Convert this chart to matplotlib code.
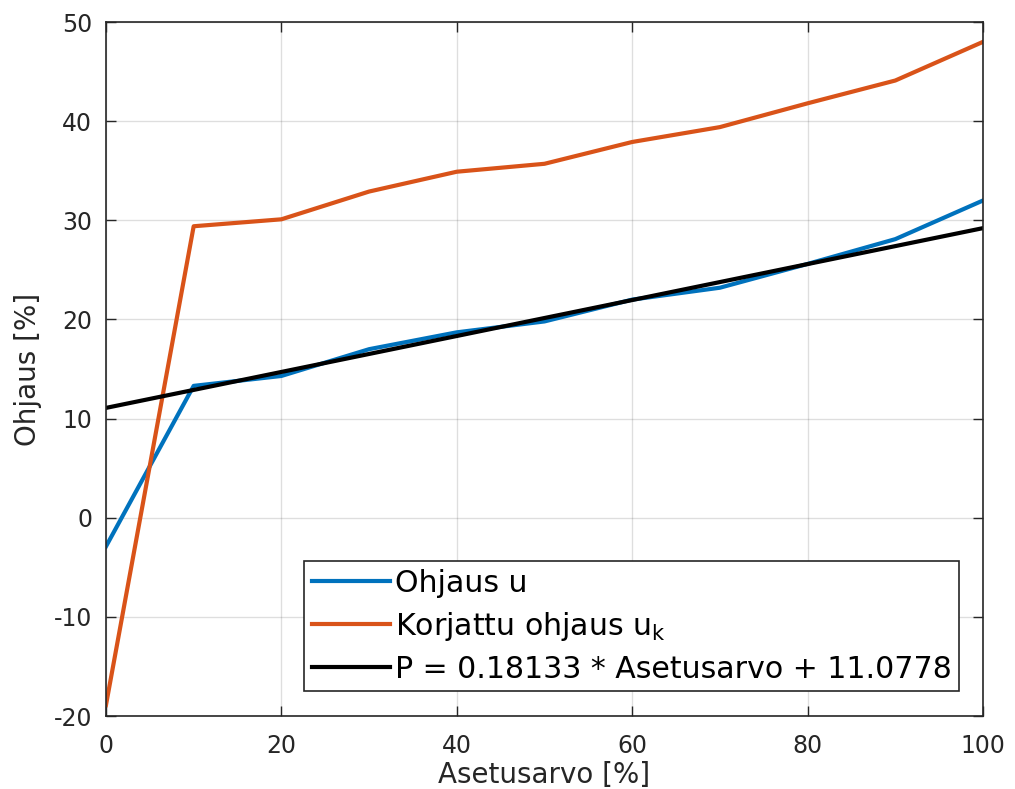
import numpy as np
import matplotlib.pyplot as plt
import matplotlib.ticker as ticker

plt.rcParams['axes.unicode_minus'] = False

# Asetusarvo (setpoint) steps and measured controls
setpoint = [0, 10, 20, 30, 40, 50, 60, 70, 80, 90, 100]
ohjaus_u = [-2.9, 13.3, 14.3, 17.0, 18.7, 19.8, 22.0, 23.2, 25.6, 28.1, 32.0]
ohjaus_uk = [-18.9, 29.4, 30.1, 32.9, 34.9, 35.7, 37.9, 39.4, 41.8, 44.1, 48.0]

# linear fit P = k * Asetusarvo + b
fit_k = 0.18133
fit_b = 11.0778

BLUE = '#0072BD'
ORANGE = '#D95319'
TEXT = '#262626'

fig = plt.figure(figsize=(10.15, 7.89), dpi=100)
axes = fig.add_axes([0.1044, 0.0925, 0.8641, 0.8796])

fit_x = np.array([setpoint[0], setpoint[-1]])
axes.plot(setpoint, ohjaus_u, color=BLUE, linewidth=3, label='Ohjaus u')
axes.plot(setpoint, ohjaus_uk, color=ORANGE, linewidth=3, label=r'Korjattu ohjaus u$_{\mathrm{k}}$')
axes.plot(fit_x, fit_k * fit_x + fit_b, color='black', linewidth=3,
          label=f'P = {fit_k} * Asetusarvo + {fit_b}')

axes.set_xlim(0, 100)
axes.set_ylim(-20, 50)
axes.xaxis.set_major_locator(ticker.MultipleLocator(20))
axes.yaxis.set_major_locator(ticker.MultipleLocator(10))
axes.grid(True, color='#262626', alpha=0.15, linewidth=1)
axes.tick_params(direction='in', length=7, width=1, colors=TEXT, labelsize=17,
                 top=True, right=True)
axes.tick_params(axis='x', pad=13)
axes.tick_params(axis='y', pad=10)
for spine in axes.spines.values():
    spine.set_color(TEXT)
    spine.set_linewidth(1.2)

axes.set_xlabel('Asetusarvo [%]', fontsize=20, color=TEXT, labelpad=2)
axes.set_ylabel('Ohjaus [%]', fontsize=20, color=TEXT, labelpad=8)

leg = axes.legend(loc='lower right', bbox_to_anchor=(0.9726, 0.036), borderaxespad=0,
                  fontsize=21.6, frameon=True, fancybox=False, handlelength=2.6,
                  handletextpad=0.17, labelspacing=0.4, borderpad=0.25)
leg.get_frame().set_edgecolor(TEXT)
leg.get_frame().set_linewidth(1.2)
leg.get_frame().set_alpha(1)

plt.savefig('out.png', dpi=100)
